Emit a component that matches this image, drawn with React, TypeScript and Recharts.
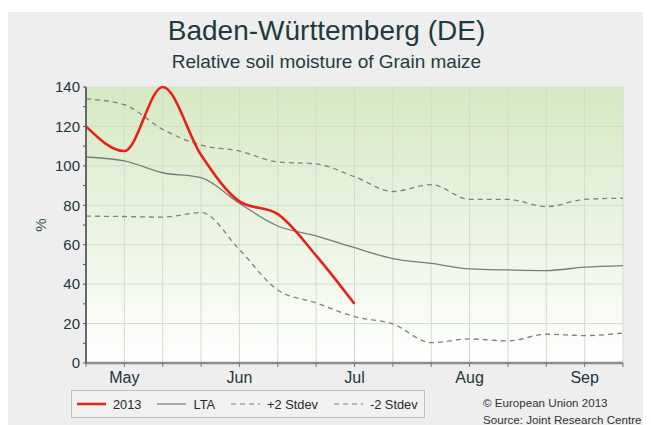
import React from 'react';
import { LineChart, Line, XAxis, YAxis, CartesianGrid, Legend } from 'recharts';

// dekads from the last one of April to the second one of September
const dekads = [0, 1, 2, 3, 4, 5, 6, 7, 8, 9, 10, 11, 12, 13, 14];
const monthTicks: Record<number, string> = { 1: 'May', 4: 'Jun', 7: 'Jul', 10: 'Aug', 13: 'Sep' };

const soil2013 = [120, 107.5, 140, 105.5, 82, 75.5, 54.5, 30];
const lta = [104.5, 102.5, 96.5, 94, 81, 69.5, 64.5, 58.5, 53, 50.5, 47.7, 47.2, 46.9, 48.6, 49.4];
const plus2 = [134, 131, 118.5, 110.5, 107.5, 102, 101, 94.5, 87, 90.5, 83, 83, 79.3, 83, 83.6];
const minus2 = [74.5, 74.3, 74, 76.3, 57.5, 37, 30.5, 23.5, 19.8, 10.3, 12.2, 11.2, 14.6, 13.9, 15.2];

const yTicks = [0, 10, 20, 30, 40, 50, 60, 70, 80, 90, 100, 110, 120, 130, 140];
const legendOrder = ['2013', 'LTA', '+2 Stdev', '-2 Stdev'];

const data = dekads.map((d, i) => ({
  d,
  y2013: i < soil2013.length ? soil2013[i] : null,
  lta: lta[i],
  plus2: plus2[i],
  minus2: minus2[i],
}));

const FONT = '"Liberation Sans", Arial, Helvetica, sans-serif';

function LegendBox({ payload }: any) {
  const items = [...(payload || [])].sort(
    (a: any, b: any) => legendOrder.indexOf(a.value) - legendOrder.indexOf(b.value)
  );
  return (
    <div
      style={{
        boxSizing: 'border-box',
        width: 354,
        height: 28,
        border: '1.5px solid #bdbdbd',
        background: '#f1f1f1',
        display: 'flex',
        alignItems: 'center',
        paddingLeft: 5,
        fontFamily: FONT,
        fontSize: 12.8,
        color: '#2a2a2a',
        whiteSpace: 'nowrap',
      }}
    >
      {items.map((it: any) => (
        <span
          key={it.value}
          style={{ display: 'inline-flex', alignItems: 'center', marginRight: 16, flexShrink: 0 }}
        >
          <svg width={29} height={6} style={{ marginRight: 7, flexShrink: 0 }}>
            <line
              x1={0}
              y1={3}
              x2={29}
              y2={3}
              stroke={it.color}
              strokeWidth={it.value === '2013' ? 2.5 : 1.2}
              strokeDasharray={it.payload?.strokeDasharray}
            />
          </svg>
          <span>{it.value}</span>
        </span>
      ))}
    </div>
  );
}

export default function App() {
  return (
    <div style={{ paddingTop: 4 }}>
      <div style={{ position: 'relative', width: 643, height: 413, background: '#eeeeee', fontFamily: FONT }}>
        <LineChart width={643} height={413} data={data} margin={{ top: 75, right: 28, left: 0, bottom: 32 }}>
          <defs>
            <linearGradient id="plotBg" x1="0" y1="0" x2="0" y2="1">
              <stop offset="0%" stopColor="#d5e9c3" />
              <stop offset="100%" stopColor="#ffffff" />
            </linearGradient>
          </defs>
          <CartesianGrid
            fill="url(#plotBg)"
            stroke="#d2dccc"
            strokeWidth={1}
            horizontalValues={[20, 40, 60, 80, 100, 120, 140]}
          />
          <XAxis
            dataKey="d"
            type="number"
            domain={[0, 14]}
            ticks={dekads}
            interval={0}
            tickFormatter={(v: number) => monthTicks[v] ?? ''}
            axisLine={{ stroke: '#8c8c8c', strokeWidth: 2.5 }}
            tickLine={{ stroke: '#777777' }}
            tickSize={4}
            tickMargin={5}
            height={30}
            tick={{ fontSize: 16, fill: '#1f3538' }}
          />
          <YAxis
            type="number"
            domain={[0, 140]}
            ticks={yTicks}
            interval={0}
            tickFormatter={(v: number) => (v % 20 === 0 ? String(v) : '')}
            axisLine={{ stroke: '#5a5a5a', strokeWidth: 1.8 }}
            tickLine={{ stroke: '#555555' }}
            tickSize={3}
            tickMargin={3}
            width={78}
            tick={{ fontSize: 15, fill: '#1f3538' }}
            label={{ value: '%', angle: -90, position: 'center', dx: -6, fontSize: 15, fill: '#34525a' }}
          />
          <Legend
            content={<LegendBox />}
            layout="horizontal"
            verticalAlign="middle"
            align="center"
            wrapperStyle={{ left: 63, top: 378, width: 354, height: 28 }}
          />
          <Line
            name="+2 Stdev"
            dataKey="plus2"
            type="monotone"
            stroke="#808080"
            strokeWidth={1.3}
            strokeDasharray="5 4"
            dot={false}
            activeDot={false}
            isAnimationActive={false}
          />
          <Line
            name="-2 Stdev"
            dataKey="minus2"
            type="monotone"
            stroke="#808080"
            strokeWidth={1.3}
            strokeDasharray="5 4"
            dot={false}
            activeDot={false}
            isAnimationActive={false}
          />
          <Line
            name="LTA"
            dataKey="lta"
            type="monotone"
            stroke="#7a7a7a"
            strokeWidth={1.3}
            dot={false}
            activeDot={false}
            isAnimationActive={false}
          />
          <Line
            name="2013"
            dataKey="y2013"
            type="monotone"
            stroke="#e8211a"
            strokeWidth={2.6}
            dot={false}
            activeDot={false}
            isAnimationActive={false}
          />
        </LineChart>
        <svg
          width={643}
          height={413}
          style={{ position: 'absolute', left: 0, top: 0, pointerEvents: 'none', fontFamily: FONT }}
        >
          <text x={318.5} y={27.5} textAnchor="middle" fontSize={28} fill="#1d3b3e">
            Baden-Württemberg (DE)
          </text>
          <text x={318.5} y={56} textAnchor="middle" fontSize={19} fill="#233c3f">
            Relative soil moisture of Grain maize
          </text>
          <text x={475} y={394.5} fontSize={11.6} fill="#333333">
            © European Union 2013
          </text>
          <text x={475} y={411.5} fontSize={11.6} fill="#333333">
            Source: Joint Research Centre
          </text>
        </svg>
      </div>
    </div>
  );
}
